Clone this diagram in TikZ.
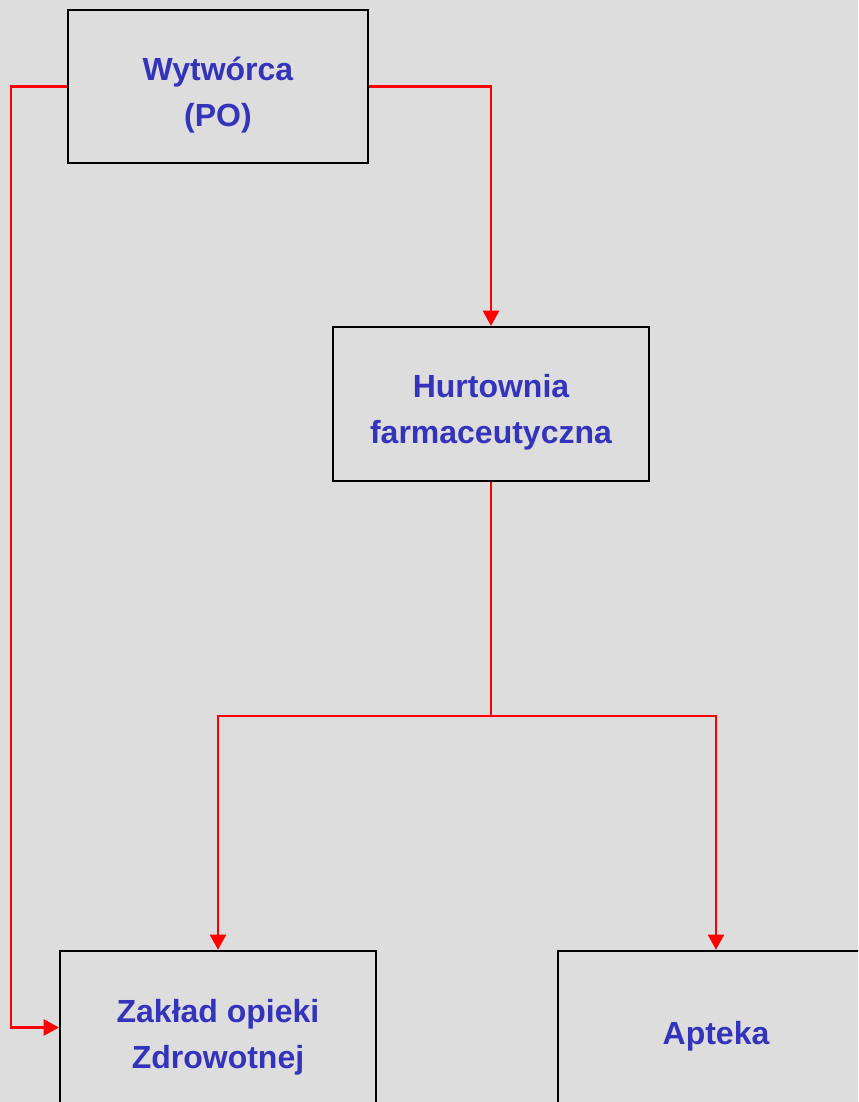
\documentclass[tikz,border=0pt]{standalone}
\usepackage{fontspec}
\setmainfont{Liberation Sans}
\usetikzlibrary{arrows.meta}

\definecolor{bggray}{RGB}{221,221,221}
\definecolor{txtblue}{RGB}{51,51,187}

\begin{document}
\begin{tikzpicture}[x=0.75pt,y=-0.75pt]

\tikzset{
  box/.style={draw=black,line width=1.5pt,fill=bggray,inner sep=0pt},
  caption/.style={text=txtblue,align=center,font=\fontsize{24}{34.5}\selectfont\bfseries},
  link/.style={draw=red,line width=2pt},
  tip/.style={-{Triangle[width=12pt,length=11.5pt]}}
}

%% Page
\clip (0,0) rectangle (858,1102);
\fill[bggray] (0,0) rectangle (858,1102);

%% Boxes
\node[box,minimum width=225pt,minimum height=114.75pt] (wyt) at (218,86.5) {};
\node[caption] (wyt text) at (218,95) {Wytwórca\\(PO)};

\node[box,minimum width=237pt,minimum height=115.5pt] (hurt) at (491,404) {};
\node[caption] (hurt text) at (491,412.5) {Hurtownia\\farmaceutyczna};

\node[box,minimum width=237pt,minimum height=115pt] (zak) at (218,1027.5) {};
\node[caption] (zak text) at (218,1037) {Zakład opieki\\Zdrowotnej};

\node[box,minimum width=237pt,minimum height=115pt] (apt) at (716,1027.5) {};
\node[caption] (apt text) at (716,1036) {Apteka};

%% Corners
\coordinate (lft) at (11,86.5);
\coordinate (split) at (491,716);

%% Links
\draw[link,tip] (wyt.west) -- (lft) |- (zak.west);
\draw[link,tip] (wyt.east) -| (hurt.north);
\draw[link] (hurt.south) -- (split);
\draw[link,tip] (split) -| (zak.north);
\draw[link,tip] (split) -| (apt.north);

\end{tikzpicture}
\end{document}
